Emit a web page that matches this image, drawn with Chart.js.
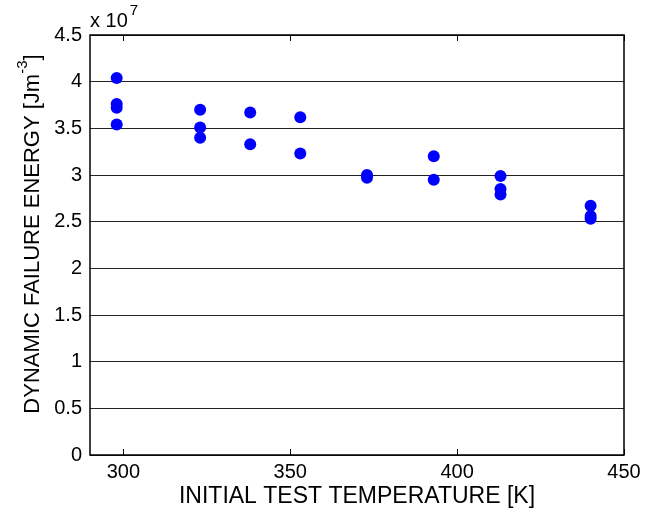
<!DOCTYPE html>
<html>
<head>
<meta charset="utf-8">
<script src="https://cdn.jsdelivr.net/npm/chart.js@4"></script>
<style>
  html, body { margin: 0; padding: 0; background: #fff; }
  #wrap { width: 664px; height: 512px; }
</style>
</head>
<body>
<div id="wrap"><canvas id="scatterChart" width="664" height="512"></canvas></div>
<script>
// temperature [K] for each test
var temperatures = [298, 298, 298, 298, 323, 323, 323, 338, 338, 353, 353, 373, 373, 393, 393, 413, 413, 413, 440, 440, 440];
// dynamic failure energy, in units of 1e7 J/m^3
var energies = [4.04, 3.76, 3.72, 3.54, 3.70, 3.51, 3.40, 3.67, 3.33, 3.62, 3.23, 3.00, 2.97, 3.20, 2.95, 2.99, 2.85, 2.79, 2.67, 2.56, 2.53];
var xTicks = [300, 350, 400, 450];
var yTicks = [0, 0.5, 1, 1.5, 2, 2.5, 3, 3.5, 4, 4.5];

var points = temperatures.map(function (t, i) {
  return { x: t, y: energies[i] };
});

var FONT = '"Liberation Sans", Arial, Helvetica, sans-serif';

// kotak, tick ke dalam, judul sumbu dan pengali x 10^7
var matlabAxes = {
  id: 'matlabAxes',
  afterDraw: function (chart) {
    var c = chart.ctx;
    var a = chart.chartArea;
    var xs = chart.scales.x;
    c.save();
    c.strokeStyle = '#000';
    c.lineWidth = 1.5;
    c.strokeRect(a.left, a.top, a.right - a.left, a.bottom - a.top);
    c.lineWidth = 1;
    xTicks.forEach(function (v) {
      var px = Math.round(xs.getPixelForValue(v)) + 0.5;
      c.beginPath();
      c.moveTo(px, a.bottom);
      c.lineTo(px, a.bottom - 6);
      c.moveTo(px, a.top);
      c.lineTo(px, a.top + 6);
      c.stroke();
    });

    c.fillStyle = '#000';
    // x title
    c.font = '23px ' + FONT;
    c.textAlign = 'center';
    c.textBaseline = 'middle';
    c.fillText('INITIAL TEST TEMPERATURE [K]', (a.left + a.right) / 2, 497);

    // y title with superscript
    var main = 'DYNAMIC FAILURE ENERGY [Jm';
    var sup = '-3';
    var tail = ']';
    c.font = '22px ' + FONT;
    var w1 = c.measureText(main).width;
    var w3 = c.measureText(tail).width;
    c.font = '15px ' + FONT;
    var w2 = c.measureText(sup).width;
    var total = w1 + w2 + w3;
    c.translate(33, 234);
    c.rotate(-Math.PI / 2);
    c.textAlign = 'left';
    c.textBaseline = 'middle';
    var sx = -total / 2;
    c.font = '22px ' + FONT;
    c.fillText(main, sx, 0);
    c.font = '15px ' + FONT;
    c.fillText(sup, sx + w1, -10);
    c.font = '22px ' + FONT;
    c.fillText(tail, sx + w1 + w2, 0);
    c.setTransform(1, 0, 0, 1, 0, 0);

    // multiplier
    c.font = '20px ' + FONT;
    c.textAlign = 'left';
    c.textBaseline = 'alphabetic';
    c.fillText('x 10', a.left, 27);
    var wx = c.measureText('x 10').width;
    c.font = '15px ' + FONT;
    c.fillText('7', a.left + wx + 2, 15);
    c.restore();
  }
};

new Chart(document.getElementById('scatterChart').getContext('2d'), {
  type: 'scatter',
  data: {
    datasets: [{
      data: points,
      backgroundColor: '#0000ff',
      borderColor: '#0000ff',
      pointRadius: 6,
      pointHoverRadius: 6,
      borderWidth: 0
    }]
  },
  options: {
    responsive: false,
    animation: false,
    layout: { padding: { top: 35, right: 40, left: 0, bottom: 0 } },
    plugins: {
      legend: { display: false },
      tooltip: { enabled: false }
    },
    scales: {
      x: {
        type: 'linear',
        min: 290,
        max: 450,
        afterBuildTicks: function (s) {
          s.ticks = xTicks.map(function (v) { return { value: v }; });
        },
        afterFit: function (s) { s.height = 57; },
        grid: { display: false, drawTicks: false },
        border: { display: false },
        ticks: {
          color: '#000',
          padding: 5,
          maxRotation: 0,
          font: { family: FONT, size: 20 }
        }
      },
      y: {
        min: 0,
        max: 4.5,
        afterBuildTicks: function (s) {
          s.ticks = yTicks.map(function (v) { return { value: v }; });
        },
        afterFit: function (s) { s.width = 90; },
        grid: { color: '#222', lineWidth: 1, drawTicks: false },
        border: { display: false },
        ticks: {
          color: '#000',
          padding: 8,
          font: { family: FONT, size: 20 },
          callback: function (v) { return String(v); }
        }
      }
    }
  },
  plugins: [matlabAxes]
});
</script>
</body>
</html>
